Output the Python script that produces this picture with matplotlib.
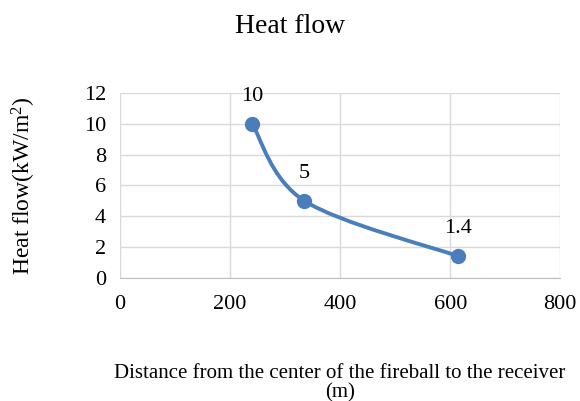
import numpy as np
import matplotlib.pyplot as plt
from matplotlib.path import Path
from matplotlib.patches import PathPatch

# data
distance = [240, 335, 615]
heat_flow = [10, 5, 1.4]
labels = ['10', '5', '1.4']

x_ticks = [0, 200, 400, 600, 800]
y_ticks = [0, 2, 4, 6, 8, 10, 12]

LINE_COLOR = '#4a7ebb'
GRID_COLOR = '#d9d9d9'

plt.rcParams['font.family'] = ['Liberation Serif', 'DejaVu Serif']
plt.rcParams['mathtext.fontset'] = 'custom'
plt.rcParams['mathtext.rm'] = 'Liberation Serif'


def smooth_path(xs, ys, tension=1 / 6):
    """Excel-like smoothed line as cubic Bezier segments through the points."""
    pts = np.column_stack([xs, ys]).astype(float)
    verts = [pts[0]]
    codes = [Path.MOVETO]
    n = len(pts)
    for i in range(n - 1):
        p0 = pts[i - 1] if i > 0 else pts[i]
        p1 = pts[i]
        p2 = pts[i + 1]
        p3 = pts[i + 2] if i + 2 < n else pts[i + 1]
        c1 = p1 + (p2 - p0) * tension
        c2 = p2 - (p3 - p1) * tension
        verts += [c1, c2, p2]
        codes += [Path.CURVE4] * 3
    return Path(verts, codes)


fig = plt.figure(figsize=(5.8, 4.01), dpi=100)
ax = fig.add_axes([0.207, 0.307, 0.759, 0.461])

ax.set_xlim(0, 800)
ax.set_ylim(0, 12)
ax.set_xticks(x_ticks)
ax.set_yticks(y_ticks)
ax.grid(True, color=GRID_COLOR, linewidth=1)
ax.set_axisbelow(True)
for side in ['top', 'right', 'left']:
    ax.spines[side].set_visible(False)
ax.spines['bottom'].set_color('#bfbfbf')
ax.tick_params(length=0, labelsize=16)
ax.tick_params(axis='x', pad=12)
ax.tick_params(axis='y', pad=10)

ax.add_patch(PathPatch(smooth_path(distance, heat_flow), facecolor='none',
                       edgecolor=LINE_COLOR, linewidth=2.8, zorder=3))
ax.plot(distance, heat_flow, 'o', color=LINE_COLOR, markersize=10, zorder=4)

for x, y, s in zip(distance, heat_flow, labels):
    ax.annotate(s, (x, y), xytext=(0, 13), textcoords='offset points',
                ha='center', va='bottom', fontsize=16)

ax.set_ylabel('Heat flow(kW/m$\\mathregular{^2}$)', fontsize=17, labelpad=33)
ax.set_xlabel('Distance from the center of the fireball to the receiver\n(m)',
              fontsize=15, labelpad=36, linespacing=1.05)
fig.suptitle('Heat flow', fontsize=20, y=0.965)

plt.savefig('out.png', dpi=100)
